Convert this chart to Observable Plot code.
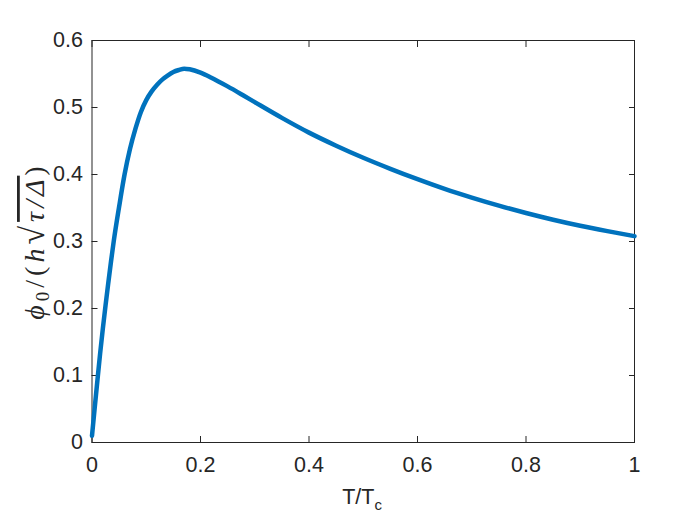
<!DOCTYPE html>
<html>
<head>
<meta charset="utf-8">
<script src="https://cdn.jsdelivr.net/npm/d3@7"></script>
<script src="https://cdn.jsdelivr.net/npm/@observablehq/plot@0.6"></script>
<style>
  html, body { margin: 0; padding: 0; background: white; }
</style>
</head>
<body>
<div id="chart"></div>
<script>
// Data
const tValues = [0, 0.005, 0.01, 0.015, 0.02, 0.025, 0.03, 0.035, 0.04, 0.05, 0.06, 0.07, 0.08, 0.09, 0.10, 0.11, 0.12, 0.13, 0.14, 0.15, 0.16, 0.17, 0.18, 0.20, 0.22, 0.25, 0.28, 0.30, 0.35, 0.40, 0.45, 0.50, 0.55, 0.60, 0.65, 0.70, 0.75, 0.80, 0.85, 0.90, 0.95, 1.0];
const phiValues = [0.010, 0.052, 0.093, 0.133, 0.170, 0.205, 0.238, 0.270, 0.300, 0.352, 0.400, 0.438, 0.468, 0.493, 0.511, 0.524, 0.534, 0.542, 0.548, 0.553, 0.556, 0.558, 0.557, 0.552, 0.5445, 0.5315, 0.5175, 0.508, 0.4845, 0.4625, 0.443, 0.425, 0.4085, 0.393, 0.3785, 0.3655, 0.3535, 0.3425, 0.3325, 0.3235, 0.3155, 0.308];
const xTicks = [0, 0.2, 0.4, 0.6, 0.8, 1];
const yTicks = [0, 0.1, 0.2, 0.3, 0.4, 0.5, 0.6];

const data = tValues.map((t, i) => ({t, phi: phiValues[i]}));
const fmt = d => String(+d.toFixed(1));
const axisColor = "#262626";
const sans = "'Liberation Sans', Arial, sans-serif";

const svg = Plot.plot({
  width: 700,
  height: 525,
  marginLeft: 91.5,
  marginRight: 66,
  marginTop: 40,
  marginBottom: 83,
  style: {fontFamily: sans, fontSize: "21px", color: axisColor, background: "white"},
  x: {domain: [0, 1]},
  y: {domain: [0, 0.6]},
  marks: [
    Plot.frame({stroke: axisColor, strokeWidth: 1}),
    Plot.axisX(xTicks, {anchor: "bottom", tickSize: -6, tickFormat: () => "", label: null, stroke: axisColor}),
    Plot.axisX(xTicks, {anchor: "top", tickSize: -6, tickFormat: () => "", label: null, stroke: axisColor}),
    Plot.axisY(yTicks, {anchor: "left", tickSize: -6, tickFormat: () => "", label: null, stroke: axisColor}),
    Plot.axisY(yTicks, {anchor: "right", tickSize: -6, tickFormat: () => "", label: null, stroke: axisColor}),
    Plot.axisX(xTicks, {anchor: "bottom", tickSize: 0, tickPadding: 14, tickFormat: fmt, label: null, fill: axisColor, fontSize: 21.5}),
    Plot.axisY(yTicks, {anchor: "left", tickSize: 0, tickPadding: 9, tickFormat: fmt, label: null, fill: axisColor, fontSize: 21.5}),
    Plot.line(data, {x: "t", y: "phi", stroke: "#0072BD", strokeWidth: 4.5, curve: "monotone-x"})
  ]
});

const sel = d3.select(svg);
// x label with subscript
const xl = sel.append("text")
  .attr("x", 362)
  .attr("y", 504)
  .attr("text-anchor", "middle")
  .attr("fill", axisColor)
  .style("font-family", sans)
  .style("font-size", "21.5px");
xl.append("tspan").text("T/T");
xl.append("tspan").attr("dy", 6).style("font-size", "15px").text("c");

// y label (LaTeX style)
const yl = sel.append("text")
  .attr("transform", "translate(44,241) rotate(-90)")
  .attr("text-anchor", "middle")
  .attr("fill", axisColor)
  .style("font-family", "'Liberation Serif', 'DejaVu Serif', serif")
  .style("font-size", "28px")
  .style("letter-spacing", "4px");
yl.append("tspan").style("font-style", "italic").text("ϕ");
yl.append("tspan").attr("dy", 5).style("font-size", "19px").text("0");
yl.append("tspan").attr("dy", -5).text("/(");
yl.append("tspan").style("font-style", "italic").text("h");
yl.append("tspan").style("font-size", "34px").text("√");
yl.append("tspan").style("font-style", "italic").style("text-decoration", "overline").text("τ/Δ");
yl.append("tspan").text(")");

document.getElementById("chart").appendChild(svg);
</script>
</body>
</html>
